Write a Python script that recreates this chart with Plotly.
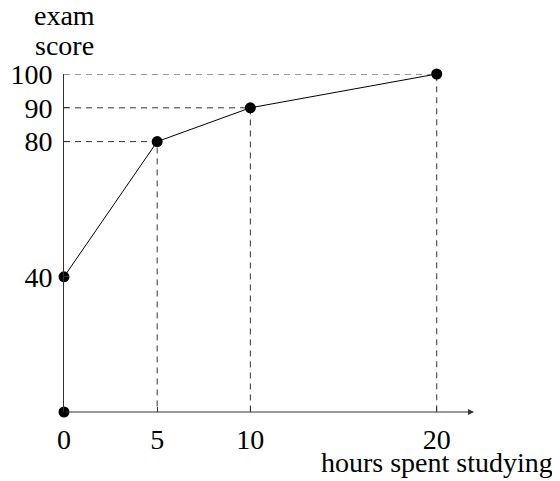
import plotly.graph_objects as go

hours = [0, 5, 10, 20]
score = [40, 80, 90, 100]
origin_x = [0]
origin_y = [0]
x_ticks = [0, 5, 10, 20]
y_ticks = [40, 80, 90, 100]
x_title = "hours spent studying"
y_title_lines = ["exam", "score"]

FONT = "Liberation Serif, Times New Roman, serif"
FS = 28

fig = go.Figure()

# dashed guide lines from each point (except the first) to both axes
for hx, sy in zip(hours[1:], score[1:]):
    fig.add_trace(go.Scatter(
        x=[0, hx, hx], y=[sy, sy, 0], mode="lines",
        line=dict(color="#333333", width=1, dash="6px,5px"),
        hoverinfo="skip", showlegend=False, cliponaxis=False))

fig.add_trace(go.Scatter(
    x=hours, y=score, mode="lines+markers",
    line=dict(color="black", width=1),
    marker=dict(color="black", size=11),
    showlegend=False, cliponaxis=False))

fig.add_trace(go.Scatter(
    x=origin_x, y=origin_y, mode="markers",
    marker=dict(color="black", size=11),
    showlegend=False, cliponaxis=False))

fig.update_layout(
    width=552, height=473,
    margin=dict(l=56, r=86, t=66, b=69, autoexpand=False),
    plot_bgcolor="white", paper_bgcolor="white",
    font=dict(family=FONT, size=FS, color="black"),
    xaxis=dict(range=[0, 22], tickvals=x_ticks, ticktext=[str(v) for v in x_ticks],
               showgrid=False, zeroline=False, showline=False, automargin=False,
               ticks="inside", ticklen=5, tickcolor="#333333", tickwidth=1,
               ticklabelstandoff=8),
    yaxis=dict(range=[0, 100], tickvals=y_ticks, ticktext=[str(v) for v in y_ticks],
               showgrid=False, zeroline=False, showline=True, linecolor="#333333", linewidth=1,
               automargin=False,
               ticks="inside", ticklen=5, tickcolor="#333333", tickwidth=1,
               ticklabelstandoff=5),
)

# x axis line with arrow
fig.add_annotation(x=22, y=0, ax=0, ay=0, xref="x", yref="y", axref="x", ayref="y",
                   text="", showarrow=True, arrowhead=2, arrowsize=1.2, arrowwidth=1,
                   arrowcolor="#333333", standoff=0)

fig.add_annotation(x=0, y=1.173, xref="x", yref="paper", text=y_title_lines[0],
                   showarrow=False, xanchor="center", yanchor="middle",
                   font=dict(family=FONT, size=FS))
fig.add_annotation(x=0, y=1.084, xref="x", yref="paper", text=y_title_lines[1],
                   showarrow=False, xanchor="center", yanchor="middle",
                   font=dict(family=FONT, size=FS))
fig.add_annotation(x=1.198, y=-0.148, xref="paper", yref="paper", text=x_title,
                   showarrow=False, xanchor="right", yanchor="middle",
                   font=dict(family=FONT, size=FS))

fig.write_html("out.html")
